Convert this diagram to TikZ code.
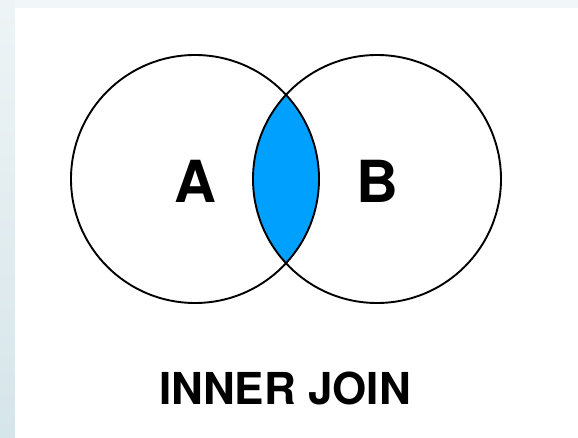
\documentclass[tikz,border=0pt]{standalone}
\usepackage{fontspec}
\setmainfont{TeX Gyre Heros}
\definecolor{lens}{HTML}{00A0FF}
\definecolor{paneltop}{HTML}{F1F6F8}
\definecolor{striptop}{HTML}{EEF4F6}
\definecolor{stripbot}{HTML}{D6E5EA}
\tikzset{
  setcircle/.style={circle,draw=black,line width=1.9pt,minimum size=248pt,inner sep=0pt},
  setlabel/.style={font=\bfseries\fontsize{58}{58}\selectfont,inner sep=0pt},
  joinlabel/.style={font=\bfseries\fontsize{44}{44}\selectfont,inner sep=0pt}
}

\begin{document}
\begin{tikzpicture}[x=1pt,y=1pt]
 \useasboundingbox (0,0) rectangle (578,437);
 % backdrop
 \shade[top color=striptop,bottom color=stripbot] (0,0) rectangle (15,437);
 \fill[paneltop] (15,429) rectangle (578,437);
 \fill[white] (15,0) rectangle (578,429);
 % overlap of the two sets
 \begin{scope}
  \clip (195,258) circle (124);
  \fill[lens] (377,258) circle (124);
 \end{scope}
 \node[setcircle] (setA) at (195,258) {};
 \node[setcircle] (setB) at (377,258) {};
 \node[setlabel] (labelA) at (195,256) {A};
 \node[setlabel] (labelB) at (377,256) {B};
 \node[joinlabel] (caption) at (285,49) {INNER JOIN};
\end{tikzpicture}
\end{document}
